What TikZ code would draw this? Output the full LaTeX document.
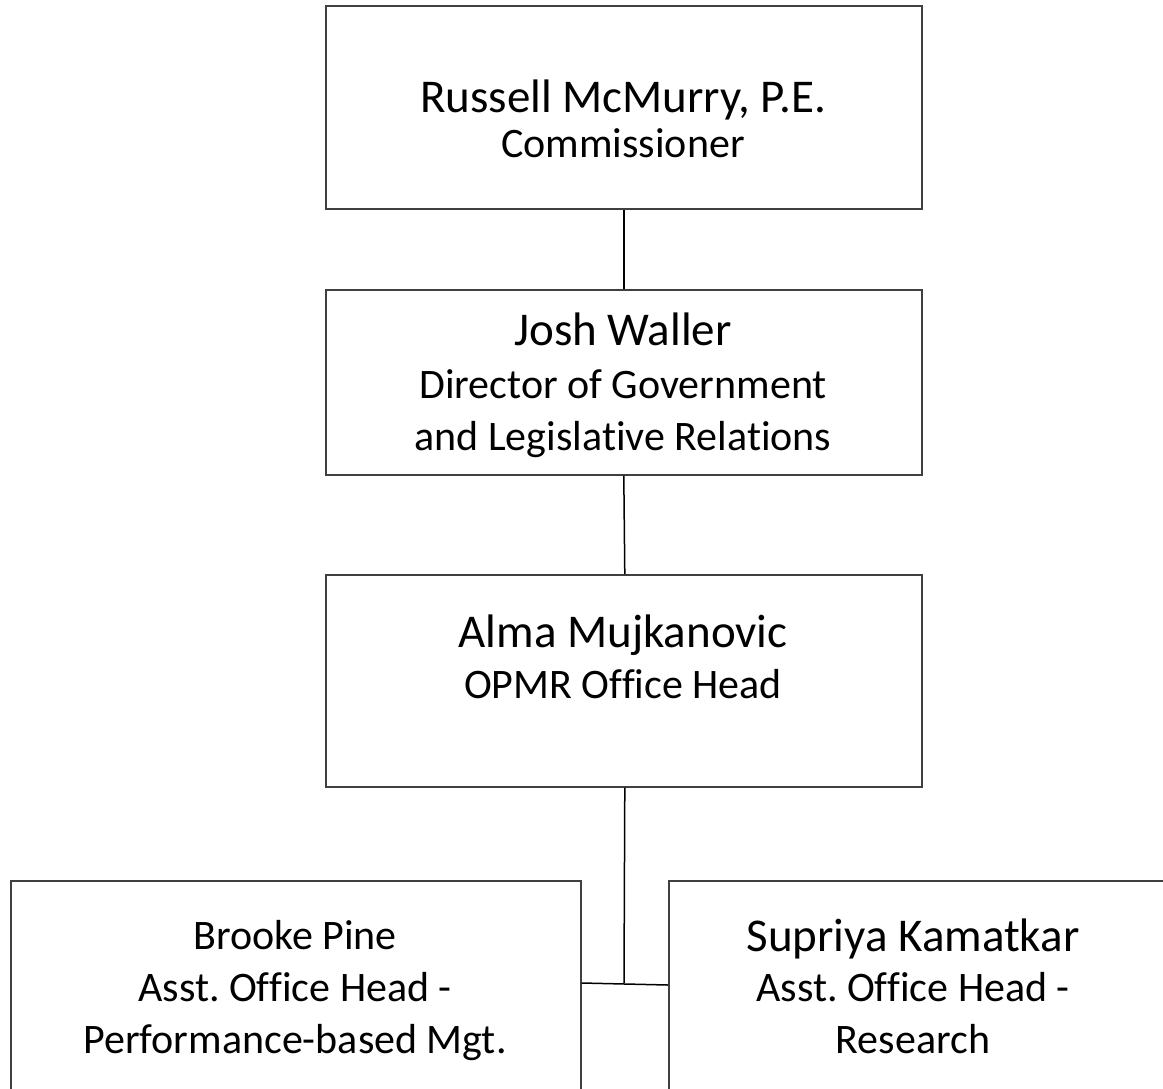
\documentclass[tikz,border=0pt]{standalone}
\usepackage{fontspec}
\setmainfont{Carlito}[Ligatures=NoCommon]
\frenchspacing
\begin{document}
\begin{tikzpicture}[x=1pt,y=-1pt,
  box/.style={draw=black!75,line width=1.6pt,fill=white,inner sep=0pt,anchor=north west},
  link/.style={draw=black,line width=1.5pt},
  big/.style={font=\fontsize{47}{56}\selectfont,anchor=base,inner sep=0pt},
  small/.style={font=\fontsize{42}{52}\selectfont,anchor=base,inner sep=0pt}]
\useasboundingbox (0,0) rectangle (1163,1088);
\clip (0,0) rectangle (1163,1088);
% boxes
\node[box,minimum width=596pt,minimum height=203pt] (b1) at (325,5) {};
\node[box,minimum width=596pt,minimum height=185pt] (b2) at (325,289) {};
\node[box,minimum width=596pt,minimum height=212pt] (b3) at (325,574) {};
\node[box,minimum width=570pt,minimum height=230pt] (b4) at (10,880) {};
\node[box,minimum width=520pt,minimum height=230pt] (b5) at (668,880) {};
% connectors
\coordinate (j) at (624,983);
\draw[link] (b1.south) -- (b2.north);
\draw[link] (b2.south) -- ([xshift=1pt]b3.north);
\draw[link] ([xshift=1pt]b3.south) -- (j);
\draw[link] (j -| b4.east) -- ([yshift=-2pt]j -| b5.west);
% texts
\node[big] (t1a) at (623,112) {Russell McMurry, P.E.};
\node[small] (t1b) at (623,157) {Commissioner};
\node[big] (t2a) at (623,345) {Josh Waller};
\node[small] (t2b) at (623,398) {Director of Government};
\node[small] (t2c) at (623,450) {and Legislative Relations};
\node[big] (t3a) at (623,647) {Alma Mujkanovic};
\node[small] (t3b) at (623,698) {OPMR Office Head};
\node[small] (t4a) at (295,949) {Brooke Pine};
\node[small] (t4b) at (295,1001) {Asst. Office Head -};
\node[small] (t4c) at (295,1053) {Performance-based Mgt.};
\node[big] (t5a) at (913,951) {Supriya Kamatkar};
\node[small] (t5b) at (913,1001) {Asst. Office Head -};
\node[small] (t5c) at (913,1053) {Research};
\end{tikzpicture}
\end{document}
